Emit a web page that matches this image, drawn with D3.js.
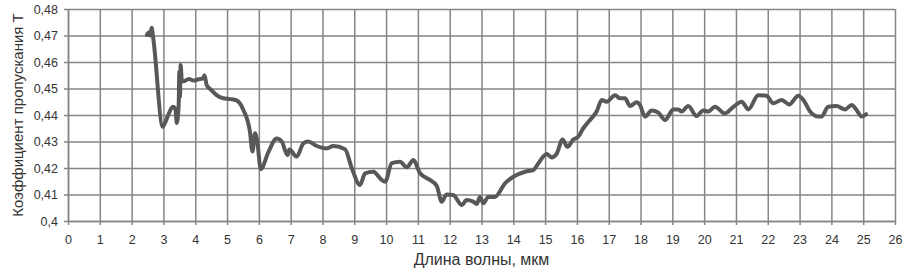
<!DOCTYPE html>
<html>
<head>
<meta charset="utf-8">
<script src="https://cdn.jsdelivr.net/npm/d3@7"></script>
<style>
  body { margin: 0; background: #fff; }
  svg text { font-family: "Liberation Sans", Arial, sans-serif; fill: #333; }
</style>
</head>
<body>
<div id="chart"></div>
<script>
var wavelength = [2.48, 2.55, 2.58, 2.63, 2.68, 2.98, 3.05, 3.15, 3.30, 3.38, 3.42, 3.48, 3.50, 3.52, 3.54, 3.58, 3.63, 3.80, 3.95, 4.10,
  4.25, 4.29, 4.36, 4.50, 4.67, 4.88, 5.10, 5.30, 5.51, 5.72, 5.80, 5.88, 5.95, 6.06, 6.30, 6.56, 6.72, 6.90, 6.96, 7.19,
  7.40, 7.55, 7.82, 8.13, 8.34, 8.71, 8.92, 9.18, 9.34, 9.60, 9.86, 9.97, 10.18, 10.44, 10.65, 10.86, 11.07, 11.38, 11.59, 11.75,
  11.90, 12.11, 12.38, 12.53, 12.74, 12.85, 12.95, 13.06, 13.21, 13.42, 13.74, 14.00, 14.37, 14.63, 14.79, 15.05, 15.20, 15.36, 15.55, 15.70,
  15.89, 16.04, 16.20, 16.39, 16.62, 16.78, 16.93, 17.20, 17.35, 17.51, 17.67, 17.88, 17.98, 18.14, 18.35, 18.56, 18.77, 19.03, 19.19, 19.29,
  19.50, 19.76, 19.97, 20.13, 20.34, 20.65, 20.92, 21.18, 21.39, 21.70, 21.96, 22.17, 22.44, 22.67, 22.96, 23.12, 23.33, 23.59, 23.69, 23.90,
  24.16, 24.43, 24.64, 24.79, 24.95, 25.09];
var transmission = [0.4702, 0.4712, 0.4700, 0.4729, 0.4690, 0.4356, 0.4370, 0.4400, 0.4431, 0.4420, 0.4370, 0.4440, 0.4563, 0.4470, 0.4589, 0.4530, 0.4527, 0.4536, 0.4530, 0.4535,
  0.4538, 0.4550, 0.4513, 0.4495, 0.4475, 0.4463, 0.4460, 0.4455, 0.4420, 0.4337, 0.4262, 0.4331, 0.4300, 0.4196, 0.4260, 0.4311, 0.4300, 0.4249, 0.4270, 0.4243,
  0.4293, 0.4300, 0.4283, 0.4274, 0.4283, 0.4271, 0.4200, 0.4136, 0.4180, 0.4186, 0.4155, 0.4148, 0.4218, 0.4224, 0.4203, 0.4230, 0.4180, 0.4155, 0.4133, 0.4073,
  0.4100, 0.4098, 0.4060, 0.4079, 0.4073, 0.4064, 0.4091, 0.4067, 0.4091, 0.4091, 0.4142, 0.4167, 0.4186, 0.4192, 0.4218, 0.4253, 0.4240, 0.4253, 0.4308, 0.4280,
  0.4308, 0.4318, 0.4350, 0.4378, 0.4413, 0.4457, 0.4450, 0.4475, 0.4463, 0.4463, 0.4434, 0.4448, 0.4438, 0.4394, 0.4417, 0.4409, 0.4381, 0.4421, 0.4421, 0.4413,
  0.4434, 0.4396, 0.4417, 0.4413, 0.4431, 0.4406, 0.4431, 0.4450, 0.4421, 0.4475, 0.4473, 0.4444, 0.4457, 0.4440, 0.4473, 0.4457, 0.4413, 0.4394, 0.4394, 0.4431,
  0.4434, 0.4421, 0.4438, 0.4419, 0.4394, 0.4403];
var xTicks = d3.range(0, 27, 1);
var yTicks = [0.40, 0.41, 0.42, 0.43, 0.44, 0.45, 0.46, 0.47, 0.48];

var width = 910, height = 273;
var margin = {top: 9, right: 15, bottom: 52, left: 68};

var svg = d3.select("#chart")
    .append("svg")
    .attr("width", width)
    .attr("height", height);

var x = d3.scaleLinear().domain([0, 26]).range([margin.left, width - margin.right]);
var y = d3.scaleLinear().domain([0.40, 0.48]).range([height - margin.bottom, margin.top]);

var fmt = function(d) { return String(+d.toFixed(2)).replace(".", ","); };

// vertical grid + ticks
var gx = svg.append("g")
    .attr("transform", "translate(0," + (height - margin.bottom) + ")")
    .call(d3.axisBottom(x).tickValues(xTicks).tickFormat(d3.format("d"))
        .tickSizeInner(-(height - margin.top - margin.bottom)).tickSizeOuter(0).tickPadding(14));
gx.selectAll(".tick line").attr("stroke", "#858585").attr("stroke-width", 1.5).attr("y2", -(height - margin.top - margin.bottom)).attr("y1", 4);
gx.select(".domain").attr("stroke", "#858585").attr("stroke-width", 1.5);
gx.selectAll("text").style("font-size", "12.5px").attr("fill", "#333");

// horizontal grid + ticks
var gy = svg.append("g")
    .attr("transform", "translate(" + margin.left + ",0)")
    .call(d3.axisLeft(y).tickValues(yTicks).tickFormat(fmt)
        .tickSizeInner(-(width - margin.left - margin.right)).tickSizeOuter(0).tickPadding(10));
gy.selectAll(".tick line").attr("stroke", "#858585").attr("stroke-width", 1.5).attr("x1", -4);
gy.select(".domain").attr("stroke", "#858585").attr("stroke-width", 1.5);
gy.selectAll("text").style("font-size", "12.5px").attr("fill", "#333");

var pts = wavelength.map(function(w, i) { return [w, transmission[i]]; });

svg.append("path")
    .datum(pts)
    .attr("fill", "none")
    .attr("stroke", "#585858")
    .attr("stroke-width", 4)
    .attr("stroke-linejoin", "round")
    .attr("stroke-linecap", "round")
    .attr("d", d3.line().x(d => x(d[0])).y(d => y(d[1])).curve(d3.curveMonotoneX));

svg.append("text")
    .attr("x", (margin.left + width - margin.right) / 2)
    .attr("y", 265)
    .style("text-anchor", "middle")
    .style("font-size", "16px")
    .attr("fill", "#222")
    .text("Длина волны, мкм");

svg.append("text")
    .attr("transform", "translate(23," + ((margin.top + height - margin.bottom) / 2) + ") rotate(-90)")
    .style("text-anchor", "middle")
    .style("font-size", "15px")
    .attr("fill", "#222")
    .text("Коэффициент пропускания T");
</script>
</body>
</html>
